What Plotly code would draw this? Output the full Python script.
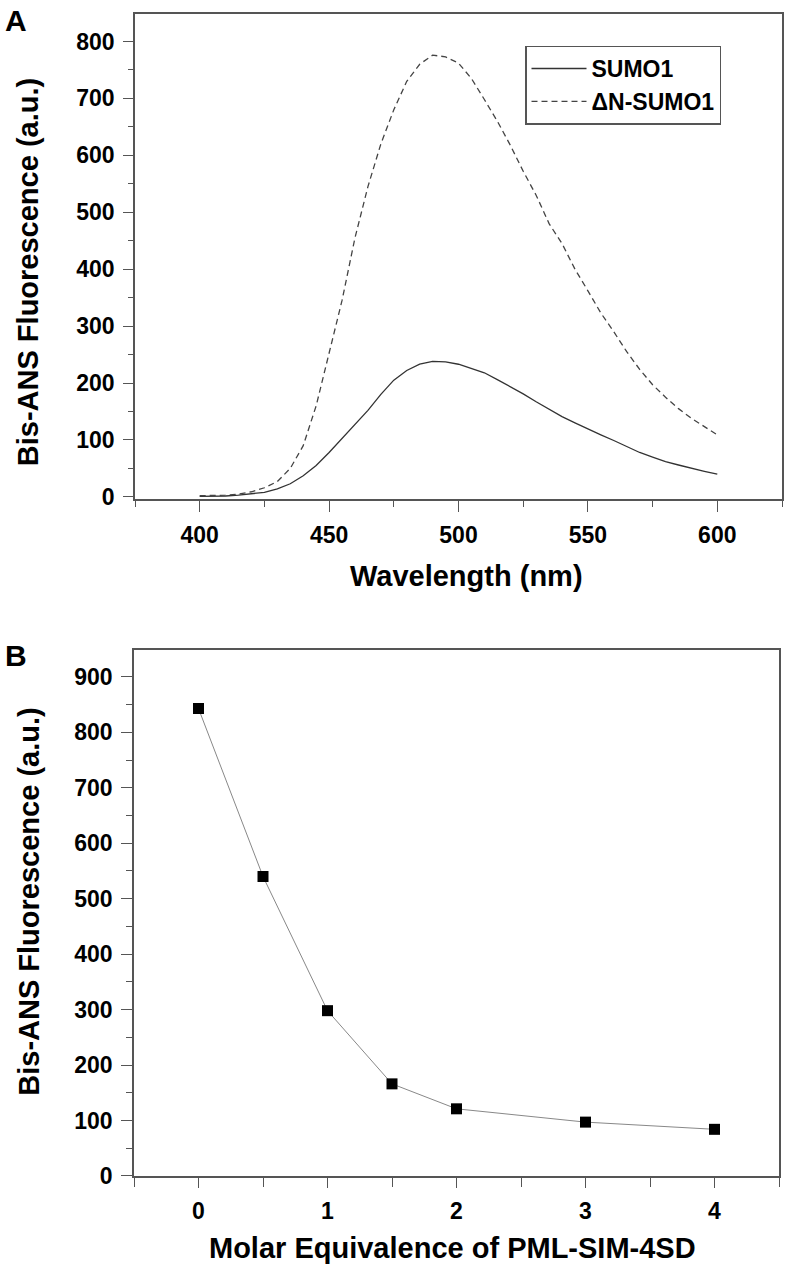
import plotly.graph_objects as go

# ---------------- data ----------------
wavelength = list(range(400, 601, 5))
sumo1 = [1, 1, 1.5, 3, 5, 8, 14, 23, 37, 55, 78, 103, 128, 152, 180, 205, 222, 233, 238, 237,
         233, 226, 218, 206, 194, 181, 167, 154, 141, 130, 119, 109, 99, 88, 78, 70, 62, 56, 50, 45, 40]
dn_sumo1 = [2, 2, 3, 5, 9, 16, 27, 50, 90, 160, 252, 345, 455, 545, 620, 680, 730, 760, 776, 773,
            762, 735, 698, 660, 618, 572, 530, 480, 445, 400, 362, 323, 290, 255, 224, 197, 175, 155, 138, 123, 109]

molar_eq = [0, 0.5, 1, 1.5, 2, 3, 4]
fluor_b = [843, 540, 298, 166, 121, 97, 84]

W, H = 785, 1276
def px(x):
    return x / W
def py(y):
    return 1 - y / H

FONT = "Liberation Sans, Arial, sans-serif"
AX = "#555555"

fig = go.Figure()
fig.add_trace(go.Scatter(x=wavelength, y=sumo1, mode="lines", name="SUMO1",
                         line=dict(color="#333333", width=1.3), xaxis="x", yaxis="y"))
fig.add_trace(go.Scatter(x=wavelength, y=dn_sumo1, mode="lines", name="\u0394N-SUMO1",
                         line=dict(color="#444444", width=1.3, dash="6px,4px"), xaxis="x", yaxis="y"))
fig.add_trace(go.Scatter(x=molar_eq, y=fluor_b, mode="lines+markers", showlegend=False,
                         line=dict(color="#888888", width=1),
                         marker=dict(symbol="square", size=11, color="black"),
                         xaxis="x2", yaxis="y2"))

tickfont = dict(family=FONT, size=23, color="black", weight="bold")

common = dict(showline=True, linecolor=AX, linewidth=1.5, mirror=True, showgrid=False,
              zeroline=False, ticks="outside", tickcolor=AX, tickwidth=1.2,
              tickfont=tickfont)

fig.update_layout(
    width=W, height=H,
    margin=dict(l=0, r=0, t=0, b=0),
    paper_bgcolor="white", plot_bgcolor="white",
    showlegend=True,
    legend=dict(x=px(525), y=py(46), xanchor="left", yanchor="top",
                bordercolor=AX, borderwidth=1.5, bgcolor="white",
                font=dict(family=FONT, size=23, color="black", weight="bold"),
                itemwidth=55, tracegroupgap=0),
    xaxis=dict(domain=[px(135), px(782)], range=[375, 625], anchor="y",
               tick0=400, dtick=50, ticklen=11, ticklabelstandoff=4,
               minor=dict(dtick=25, tick0=375, ticklen=6, ticks="outside", tickcolor=AX, tickwidth=1.2),
               **common),
    yaxis=dict(domain=[py(504), py(14)], range=[-3.5, 848.5], anchor="x",
               tick0=0, dtick=100, ticklen=10, ticklabelstandoff=4,
               minor=dict(dtick=50, ticklen=5, ticks="outside", tickcolor=AX, tickwidth=1.2),
               **common),
    xaxis2=dict(domain=[px(134), px(779)], range=[-0.5, 4.5], anchor="y2",
                tick0=0, dtick=1, ticklen=10, ticklabelstandoff=4,
                minor=dict(dtick=0.5, tick0=-0.5, ticklen=9, ticks="outside", tickcolor=AX, tickwidth=1.2),
                **common),
    yaxis2=dict(domain=[py(1188), py(657)], range=[0, 948], anchor="x2",
                tick0=0, dtick=100, ticklen=11, ticklabelstandoff=4,
                minor=dict(dtick=50, ticklen=6, ticks="outside", tickcolor=AX, tickwidth=1.2),
                **common),
)

titlefont = dict(family=FONT, size=29, color="black", weight="bold")
annos = [
    dict(text="A", x=px(16), y=py(21), font=dict(family=FONT, size=30, color="black", weight="bold")),
    dict(text="B", x=px(16), y=py(662), font=dict(family=FONT, size=30, color="black", weight="bold")),
    dict(text="Bis-ANS Fluorescence (a.u.)", x=px(28), y=py(275), textangle=-90, font=titlefont),
    dict(text="Bis-ANS Fluorescence (a.u.)", x=px(29), y=py(911), textangle=-90, font=titlefont),
    dict(text="Wavelength (nm)", x=px(466), y=py(582), font=titlefont),
    dict(text="Molar Equivalence of PML-SIM-4SD", x=px(452), y=py(1261), font=titlefont),
]
for a in annos:
    fig.add_annotation(xref="paper", yref="paper", xanchor="center", yanchor="middle",
                       showarrow=False, **a)

fig.write_html("out.html", config={"displayModeBar": False},
               post_script="document.body.style.margin='0px';")
